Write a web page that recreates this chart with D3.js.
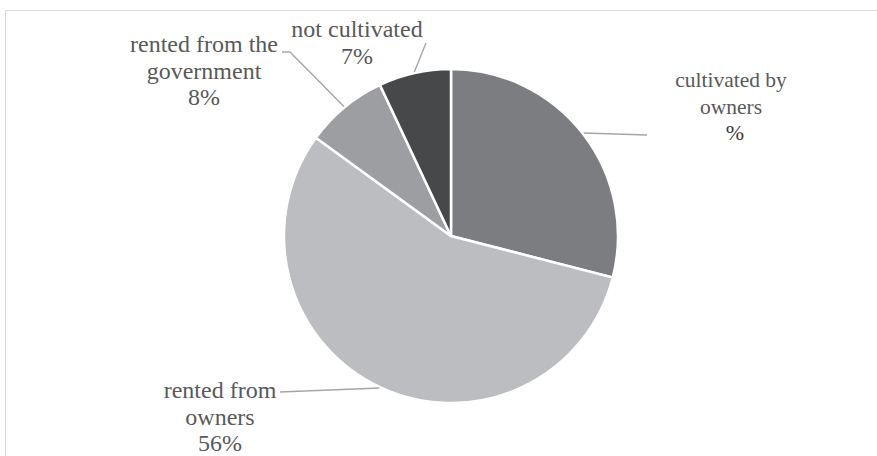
<!DOCTYPE html>
<html>
<head>
<meta charset="utf-8">
<script src="https://cdn.jsdelivr.net/npm/d3@7"></script>
<style>
  body { margin: 0; background: #fff; }
  svg text { font-family: "Liberation Serif", "DejaVu Serif", serif; }
</style>
</head>
<body>
<div id="chart-area"></div>
<script>
// data
var categories = ["cultivated by owners", "rented from owners", "rented from the government", "not cultivated"]
var values = [29, 56, 8, 7]
var colors = ["#7c7d81", "#bcbdc0", "#9d9ea2", "#47484a"]
// label lines as printed in the chart (first slice shows no number)
var labelLines = [
  ["cultivated by", "owners"],
  ["rented from", "owners", "56%"],
  ["rented from the", "government", "8%"],
  ["not cultivated", "7%"]
]

var width = 877, height = 456
var cx = 451, cy = 236, radius = 167

var svg = d3.select("#chart-area").append("svg")
  .attr("width", width)
  .attr("height", height)

svg.append("rect")
  .attr("x", 5.5).attr("y", 10.5)
  .attr("width", width).attr("height", height)
  .attr("fill", "none")
  .attr("stroke", "#d9d9d9")

var g = svg.append("g")
  .attr("transform", "translate(" + cx + "," + cy + ")")

var pie = d3.pie().sort(null).value(function(d) { return d; })
var arcs = pie(values)

var arc = d3.arc().innerRadius(0).outerRadius(radius)

g.selectAll("path.slice")
  .data(arcs)
  .enter().append("path")
  .attr("class", "slice")
  .attr("d", arc)
  .attr("fill", function(d, i) { return colors[i]; })
  .attr("stroke", "#fff")
  .attr("stroke-width", 2.5)

// label placement (absolute page coords)
var labelPos = [
  {x: 731, y: 87, size: 21.5, line: [[647, 135]]},
  {x: 220, y: 398, size: 24, line: [[280, 392]]},
  {x: 204, y: 52, size: 24, line: [[290, 52], [282, 52]]},
  {x: 357, y: 37, size: 24, line: [[426, 43]]}
]
var lineH = 26.5

var edge = d3.arc().innerRadius(radius + 1).outerRadius(radius + 1)

arcs.forEach(function(d, i) {
  var c = edge.centroid(d)
  var pts = [[cx + c[0], cy + c[1]]].concat(labelPos[i].line)
  svg.append("path")
    .attr("d", d3.line()(pts))
    .attr("fill", "none")
    .attr("stroke", "#a6a6a6")
    .attr("stroke-width", 1.4)

  var t = svg.append("text")
    .attr("text-anchor", "middle")
    .attr("font-size", labelPos[i].size)
    .attr("fill", "#595959")
  labelLines[i].forEach(function(s, j) {
    t.append("tspan")
      .attr("x", labelPos[i].x)
      .attr("y", labelPos[i].y + j * lineH)
      .text(s)
  })
})

// stray percent sign under the first label
svg.append("text")
  .attr("x", 735).attr("y", 140)
  .attr("text-anchor", "middle")
  .attr("font-size", 22)
  .attr("fill", "#3a3a3a")
  .text("%")
</script>
</body>
</html>
